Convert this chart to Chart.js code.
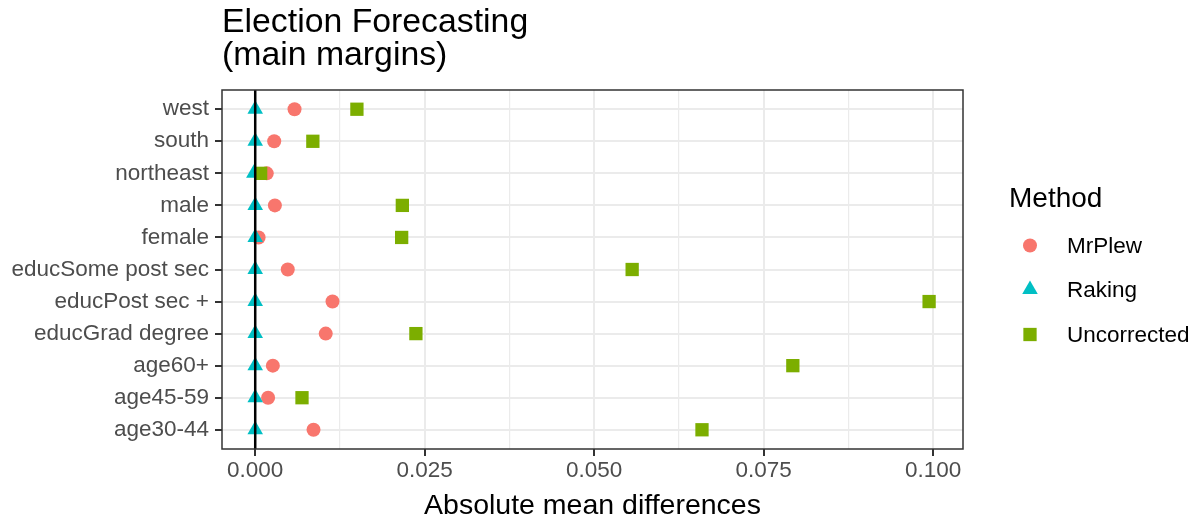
<!DOCTYPE html>
<html>
<head>
<meta charset="utf-8">
<script src="https://cdn.jsdelivr.net/npm/chart.js@4/dist/chart.umd.min.js"></script>
<style>
  body { margin: 0; background: #fff; }
  #wrap { width: 1200px; height: 520px; }
</style>
</head>
<body>
<div id="wrap"><canvas id="chart" width="1200" height="520"></canvas></div>
<script>
// data
const categories = ['west', 'south', 'northeast', 'male', 'female', 'educSome post sec',
  'educPost sec +', 'educGrad degree', 'age60+', 'age45-59', 'age30-44'];
const mrplew      = [0.0058, 0.0028, 0.0017, 0.0029, 0.0005, 0.0048, 0.0114, 0.0104, 0.0026, 0.0019, 0.0086];
const raking      = [0, 0, -0.0002, 0, 0, 0, 0, 0, 0, 0, 0];
const uncorrected = [0.0150, 0.0085, 0.0008, 0.0217, 0.0216, 0.0556, 0.0994, 0.0237, 0.0793, 0.0069, 0.0659];
const xMajorTicks = [0, 0.025, 0.05, 0.075, 0.1];
const xMinorTicks = [0.0125, 0.0375, 0.0625, 0.0875];
const methods = ['MrPlew', 'Raking', 'Uncorrected'];

const FONT = "'Liberation Sans', Arial, sans-serif";
const toPoints = vals => vals.map((v, i) => ({ x: v, y: i }));
const isMajor = v => xMajorTicks.some(t => Math.abs(t - v) < 1e-9);

const styles = [
  { pointStyle: 'circle', radius: 7, color: '#F8766D' },
  { pointStyle: 'triangle', radius: 9, color: '#00BFC4' },
  { pointStyle: 'rect', radius: 9.4, color: '#7CAE00' }
];
const series = [mrplew, raking, uncorrected];

// panel border, zero line, title and legend
const decorations = {
  id: 'decorations',
  afterDatasetsDraw(chart) {
    const { ctx, chartArea: a, scales } = chart;
    const x0 = scales.x.getPixelForValue(0);
    ctx.save();
    ctx.strokeStyle = '#000';
    ctx.lineWidth = 2.5;
    ctx.beginPath();
    ctx.moveTo(x0, a.top);
    ctx.lineTo(x0, a.bottom);
    ctx.stroke();
    ctx.strokeStyle = '#333';
    ctx.lineWidth = 1.5;
    ctx.strokeRect(a.left, a.top, a.right - a.left, a.bottom - a.top);
    ctx.restore();
  },
  afterDraw(chart) {
    const ctx = chart.ctx;
    ctx.save();
    ctx.fillStyle = '#000';
    ctx.textAlign = 'left';
    ctx.textBaseline = 'alphabetic';
    ctx.font = '33.8px ' + FONT;
    ctx.fillText('Election Forecasting', 222, 32);
    ctx.fillText('(main margins)', 222, 65);

    ctx.font = '28px ' + FONT;
    ctx.fillText('Method', 1009, 207);
    ctx.font = '22.5px ' + FONT;
    ctx.textBaseline = 'middle';
    const ys = [245.5, 289.5, 334.5];
    methods.forEach((m, i) => {
      const s = styles[i];
      ctx.fillStyle = s.color;
      ctx.strokeStyle = s.color;
      Chart.helpers.drawPoint(ctx, { pointStyle: s.pointStyle, radius: s.radius, rotation: 0, borderWidth: 0 }, 1030, ys[i]);
      ctx.fillStyle = '#000';
      ctx.fillText(m, 1067, ys[i] + 1);
    });
    ctx.restore();
  }
};

const ctx = document.getElementById('chart').getContext('2d');
new Chart(ctx, {
  type: 'scatter',
  data: {
    datasets: methods.map((m, i) => ({
      label: m,
      data: toPoints(series[i]),
      pointStyle: styles[i].pointStyle,
      pointRadius: styles[i].radius,
      pointHoverRadius: styles[i].radius,
      backgroundColor: styles[i].color,
      borderColor: styles[i].color,
      borderWidth: 0,
      order: 3 - i
    }))
  },
  options: {
    responsive: false,
    animation: false,
    layout: { padding: { left: 0, top: 90, right: 237, bottom: 0 } },
    plugins: {
      legend: { display: false },
      title: { display: false },
      tooltip: { enabled: false }
    },
    scales: {
      x: {
        type: 'linear',
        min: -0.0049,
        max: 0.1044,
        afterBuildTicks: s => {
          s.ticks = xMajorTicks.concat(xMinorTicks).sort((a, b) => a - b).map(v => ({ value: v }));
        },
        afterFit: s => { s.height = 71; },
        border: { display: false },
        grid: {
          color: '#ebebeb',
          lineWidth: c => (c.tick && isMajor(c.tick.value)) ? 2 : 1.2,
          tickColor: c => (c.tick && isMajor(c.tick.value)) ? '#333' : 'rgba(0,0,0,0)',
          tickLength: 7,
          tickWidth: 2
        },
        ticks: {
          color: '#4d4d4d',
          font: { family: FONT, size: 22.5 },
          padding: 1,
          autoSkip: false,
          maxRotation: 0,
          callback: v => isMajor(v) ? v.toFixed(3) : ''
        },
        title: {
          display: true,
          text: 'Absolute mean differences',
          color: '#000',
          font: { family: FONT, size: 28.5, lineHeight: 1 },
          padding: { top: 9, bottom: 0 }
        }
      },
      y: {
        type: 'linear',
        reverse: true,
        min: -0.6,
        max: 10.6,
        afterBuildTicks: s => {
          s.ticks = categories.map((c, i) => ({ value: i }));
        },
        afterFit: s => { s.width = 222; },
        border: { display: false },
        grid: {
          color: '#ebebeb',
          lineWidth: 2,
          tickColor: '#333',
          tickLength: 7,
          tickWidth: 2
        },
        ticks: {
          color: '#4d4d4d',
          font: { family: FONT, size: 22.5 },
          padding: 6,
          autoSkip: false,
          callback: v => categories[v]
        }
      }
    }
  },
  plugins: [decorations]
});
</script>
</body>
</html>
